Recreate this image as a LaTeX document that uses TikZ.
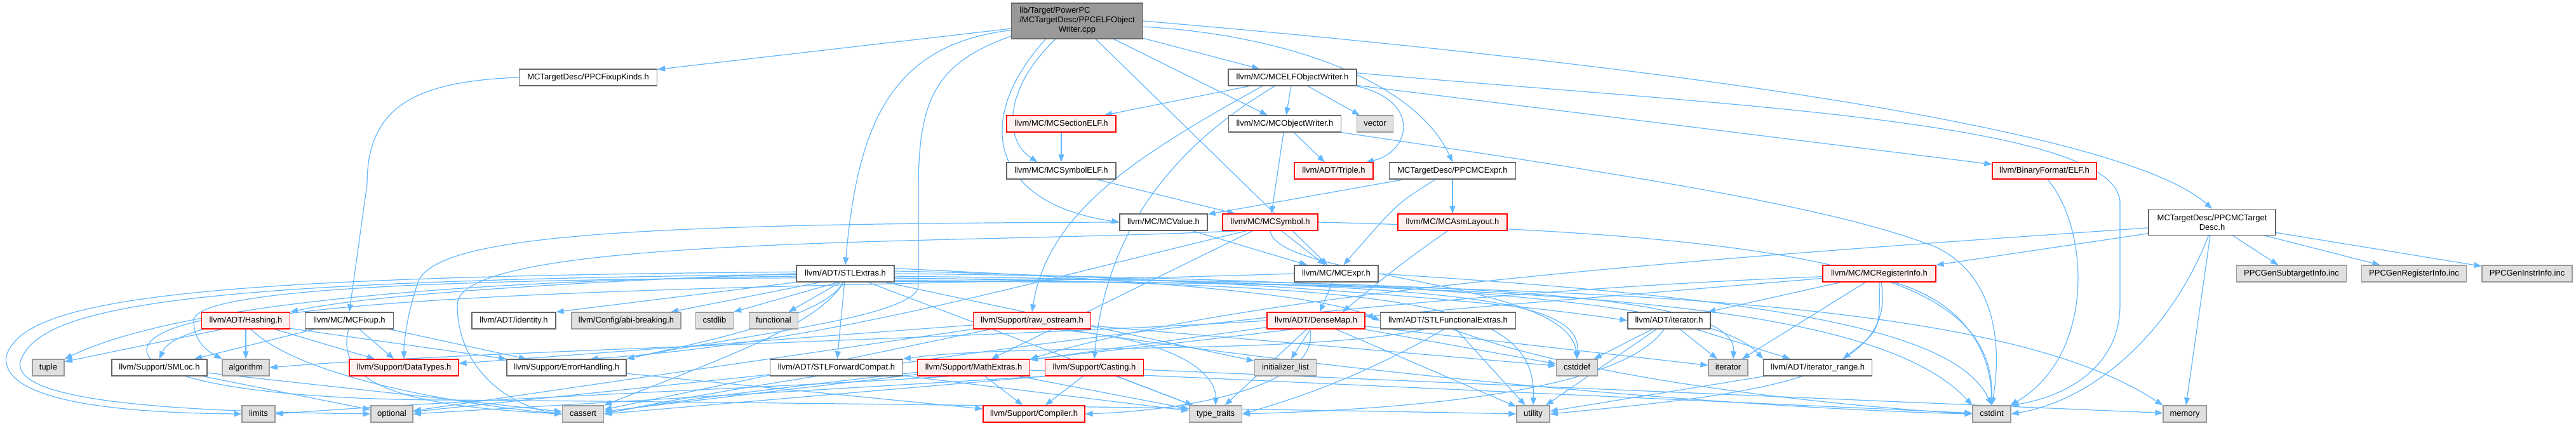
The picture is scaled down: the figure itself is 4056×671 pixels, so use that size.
\documentclass[tikz,border=0pt]{standalone}
\usepackage{fontspec}
\setmainfont{Liberation Sans}
\usetikzlibrary{arrows.meta}
\definecolor{edgeblue}{HTML}{63B8FF}
\definecolor{grayfill}{HTML}{E0E0E0}
\definecolor{graydraw}{HTML}{999999}
\definecolor{darkdraw}{HTML}{666666}
\definecolor{redfill}{HTML}{FFF0F0}
\definecolor{redline}{HTML}{FF0000}
\pgfdeclarelayer{bg}
\pgfsetlayers{bg,main}
\begin{document}
\begin{tikzpicture}[x=1pt,y=-1pt,
  bx/.style={draw=darkdraw, fill=white, line width=1.3pt, inner xsep=3pt, inner ysep=0pt,
    font=\fontsize{13}{15}\selectfont, text=black},
  nbox/.style={bx, minimum height=26pt, text height=9.5pt, text depth=2.8pt},
  sbox/.style={nbox, draw=graydraw, fill=grayfill},
  tbox/.style={nbox, draw=redline, fill=redfill},
  e/.style={draw=edgeblue, line width=1.2pt, -{Triangle[length=12pt,width=9pt]}}
]
\useasboundingbox (0,0) rectangle (4056,671);

% ---- nodes ----
\node[bx, fill=black!40, draw=darkdraw, minimum width=207pt, minimum height=56pt] (root) at (1696,33)
  {\begin{tabular}{@{}l@{}}lib/Target/PowerPC\\/MCTargetDesc/PPCELFObject\\\multicolumn{1}{@{}c@{}}{Writer.cpp}\end{tabular}};
\node[nbox, minimum width=217pt] (fixk) at (926,122) {MCTargetDesc/PPCFixupKinds.h};
\node[nbox, minimum width=202pt] (elfw) at (2035,122) {llvm/MC/MCELFObjectWriter.h};
\node[tbox, minimum width=172pt] (secelf) at (1671,195) {llvm/MC/MCSectionELF.h};
\node[nbox, minimum width=177pt] (objw) at (2023,195) {llvm/MC/MCObjectWriter.h};
\node[sbox, minimum width=57pt] (vector) at (2165,195) {vector};
\node[nbox, minimum width=172pt] (symelf) at (1671,269) {llvm/MC/MCSymbolELF.h};
\node[tbox, minimum width=124pt] (triple) at (2100,269) {llvm/ADT/Triple.h};
\node[nbox, minimum width=199pt] (pmcexpr) at (2287,269) {MCTargetDesc/PPCMCExpr.h};
\node[tbox, minimum width=164pt] (elf) at (3219,269) {llvm/BinaryFormat/ELF.h};
\node[nbox, minimum width=138pt] (value) at (1832,350) {llvm/MC/MCValue.h};
\node[tbox, minimum width=150pt] (symbol) at (2000,350) {llvm/MC/MCSymbol.h};
\node[tbox, minimum width=172pt] (asml) at (2287,350) {llvm/MC/MCAsmLayout.h};
\node[bx, align=center, minimum width=200pt, minimum height=41pt] (ptd) at (3483,350) {MCTargetDesc/PPCMCTarget\\Desc.h};
\node[nbox, minimum width=154pt] (stlx) at (1331,431) {llvm/ADT/STLExtras.h};
\node[nbox, minimum width=132pt] (expr) at (2104,431) {llvm/MC/MCExpr.h};
\node[tbox, minimum width=178pt] (regi) at (2959,431) {llvm/MC/MCRegisterInfo.h};
\node[sbox, minimum width=173pt] (gsub) at (3608,431) {PPCGenSubtargetInfo.inc};
\node[sbox, minimum width=165pt] (greg) at (3801,431) {PPCGenRegisterInfo.inc};
\node[sbox, minimum width=142pt] (ginst) at (3979,431) {PPCGenInstrInfo.inc};
\node[tbox, minimum width=139pt] (hashing) at (387,505) {llvm/ADT/Hashing.h};
\node[nbox, minimum width=139pt] (fixup) at (550,505) {llvm/MC/MCFixup.h};
\node[nbox, minimum width=132pt] (identity) at (809,505) {llvm/ADT/identity.h};
\node[sbox, minimum width=172pt] (abi) at (986,505) {llvm/Config/abi-breaking.h};
\node[sbox, minimum width=59pt] (cstdlib) at (1125,505) {cstdlib};
\node[sbox, minimum width=77pt] (functional) at (1218,505) {functional};
\node[tbox, minimum width=185pt] (rawos) at (1625,505) {llvm/Support/raw\_ostream.h};
\node[tbox, minimum width=154pt] (densemap) at (2072,505) {llvm/ADT/DenseMap.h};
\node[nbox, minimum width=213pt] (stlfe) at (2280,505) {llvm/ADT/STLFunctionalExtras.h};
\node[nbox, minimum width=130pt] (iter) at (2628,505) {llvm/ADT/iterator.h};
\node[sbox, minimum width=50pt] (tuple) at (76,579) {tuple};
\node[nbox, minimum width=150pt] (smloc) at (251,579) {llvm/Support/SMLoc.h};
\node[sbox, minimum width=74pt] (algorithm) at (387,579) {algorithm};
\node[tbox, minimum width=172pt] (datat) at (636,579) {llvm/Support/DataTypes.h};
\node[nbox, minimum width=188pt] (err) at (892,579) {llvm/Support/ErrorHandling.h};
\node[nbox, minimum width=209pt] (stlfc) at (1317,579) {llvm/ADT/STLForwardCompat.h};
\node[tbox, minimum width=177pt] (math) at (1533,579) {llvm/Support/MathExtras.h};
\node[tbox, minimum width=155pt] (casting) at (1723,579) {llvm/Support/Casting.h};
\node[sbox, minimum width=97pt] (initl) at (2024,579) {initializer\_list};
\node[sbox, minimum width=65pt] (cstddef) at (2483,579) {cstddef};
\node[sbox, minimum width=62pt] (iterstd) at (2721,579) {iterator};
\node[nbox, minimum width=171pt] (iterr) at (2862,579) {llvm/ADT/iterator\_range.h};
\node[sbox, minimum width=52pt] (limits) at (407,652) {limits};
\node[sbox, minimum width=66pt] (optional) at (617,652) {optional};
\node[sbox, minimum width=65pt] (cassert) at (918,652) {cassert};
\node[tbox, minimum width=160pt] (compiler) at (1628,652) {llvm/Support/Compiler.h};
\node[sbox, minimum width=83pt] (typet) at (1914,652) {type\_traits};
\node[sbox, minimum width=52pt] (utility) at (2414,652) {utility};
\node[sbox, minimum width=60pt] (cstdint) at (3136,652) {cstdint};
\node[sbox, minimum width=68pt] (memory) at (3440,652) {memory};

% ---- edges ----
\begin{pgfonlayer}{bg}
\fill[white] (0,0) rectangle (4056,671);
% root
\draw[e] (root) -- (fixk);
\draw[e] (root.188) .. controls (1400,70) and (1350,200) .. (stlx.north);
\draw[e] (root.193) .. controls (1470,100) and (1446,160) .. (1446,300) -- (1446,450) .. controls (1446,500) and (1150,530) .. (err.north east);
\draw[e] (root.210) .. controls (1530,190) and (1560,320) .. (value.west);
\draw[e] (root.220) .. controls (1580,140) and (1580,220) .. (symelf.160);
\draw[e] (root) -- (expr);
\draw[e] (root) -- (objw);
\draw[e] (root) -- (elfw);
\draw[e] (root.355) .. controls (2030,55) and (2230,130) .. (pmcexpr.north);
\draw[e] (root.east) .. controls (2700,110) and (3350,210) .. (ptd.north);
% fixk
\draw[e] (fixk.west) .. controls (650,128) and (578,170) .. (578,290) -- (fixup.north);
% elfw
\draw[e] (elfw) -- (secelf);
\draw[e] (elfw.196) .. controls (1800,240) and (1650,330) .. (rawos.north);
\draw[e] (elfw.206) .. controls (1900,200) and (1745,320) .. (casting.north);
\draw[e] (elfw) -- (objw);
\draw[e] (elfw) -- (vector);
\draw[e] (elfw.south east) .. controls (2240,160) and (2220,240) .. (triple.15);
\draw[e] (elfw.4) .. controls (2700,165) and (3338,190) .. (3338,320) -- (3338,480) .. controls (3338,580) and (3250,625) .. (cstdint.north east);
\draw[e] (elfw) -- (elf);
% objw
\draw[e] (objw) -- (triple);
\draw[e] (objw) -- (symbol);
\draw[e] (objw.south east) .. controls (2600,280) and (2900,330) .. (3050,390) .. controls (3150,440) and (3150,560) .. (cstdint.north);
% secelf, symelf
\draw[e] (secelf) -- (symelf);
\draw[e] (symelf) -- (symbol);
% pmcexpr
\draw[e] (pmcexpr) -- (value);
\draw[e] (pmcexpr.207) .. controls (2200,320) .. (expr.50);
\draw[e] (pmcexpr) -- (asml);
% elf
\draw[e] (elf.290) .. controls (3290,360) and (3300,560) .. (cstdint.25);
% ptd
\draw[e] (ptd.185) .. controls (2800,400) and (2000,450) .. (math.north east);
\draw[e] (ptd.190) -- (regi.north east);
\draw[e] (ptd.255) .. controls (3420,520) and (3300,630) .. (cstdint.east);
\draw[e] (ptd) -- (memory);
\draw[e] (ptd) -- (gsub);
\draw[e] (ptd) -- (greg);
\draw[e] (ptd) -- (ginst);
% value
\draw[e] (value) -- (expr);
\draw[e] (value.west) .. controls (1000,352) and (700,370) .. (660,440) .. controls (645,480) and (636,530) .. (datat.north);
% symbol
\draw[e] (symbol.200) .. controls (1600,450) and (1300,540) .. (err.20);
\draw[e] (symbol.195) .. controls (1500,385) and (720,370) .. (720,480) .. controls (720,580) and (800,640) .. (cassert.west);
\draw[e] (symbol) -- (math);
\draw[e] (symbol) -- (expr);
\draw[e] (symbol.south) .. controls (2010,440) and (2470,440) .. (cstddef.north);
\draw[e] (symbol.east) .. controls (2900,370) and (3140,440) .. (cstdint.north);
% expr
\draw[e] (expr) -- (densemap);
\draw[e] (expr.west) .. controls (1300,455) and (300,450) .. (smloc.north);
\draw[e] (expr.east) .. controls (2800,470) and (3080,520) .. (cstdint.north);
% asml
\draw[e] (asml.240) .. controls (2200,420) .. (densemap.18);
% stlx
\draw[e] (stlx.west) .. controls (1000,440) and (600,460) .. (hashing.north east);
\draw[e] (stlx.south west) -- (identity.north east);
\draw[e] (stlx.199) -- (abi.11);
\draw[e] (stlx.230) -- (cstdlib.north east);
\draw[e] (stlx.240) -- (functional.30);
\draw[e] (stlx) -- (stlfc);
\draw[e] (stlx.255) .. controls (1300,500) and (1100,540) .. (err.north east);
\draw[e] (stlx.258) .. controls (1290,510) and (1150,560) .. (cassert.north east);
\draw[e] (stlx.185) .. controls (700,440) and (305,455) .. (305,505) .. controls (305,540) and (330,555) .. (algorithm.north west);
\draw[e] (stlx.183) .. controls (800,440) and (300,470) .. (tuple.north east);
\draw[e] (stlx.178) .. controls (300,436) and (40,470) .. (10,560) .. controls (0,625) and (150,650) .. (limits.west);
\draw[e] (stlx.181) .. controls (300,442) and (60,480) .. (32,570) .. controls (20,630) and (250,648) .. (optional.west);
\draw[e] (stlx.6) .. controls (1900,445) and (2100,470) .. (stlfe.west);
\draw[e] (stlx.3) .. controls (2000,440) and (2400,480) .. (iter.west);
\draw[e] (stlx.0) .. controls (2300,440) and (2700,480) .. (iterr.north west);
\draw[e] (stlx.357) .. controls (2300,445) and (2490,470) .. (cstddef.north);
\draw[e] (stlx.354) .. controls (2400,440) and (2735,470) .. (iterstd.60);
\draw[e] (stlx.352) .. controls (2400,445) and (2950,470) .. (cstdint.north west);
\draw[e] (stlx.351) .. controls (2500,445) and (3150,470) .. (memory.north west);
\draw[e] (stlx.355) .. controls (2200,450) and (2420,470) .. (utility.north);
\draw[e] (stlx) -- (initl);
\draw[e] (stlx) -- (typet);
% hashing
\draw[e] (hashing.200) -- (tuple.20);
\draw[e] (hashing) -- (algorithm);
\draw[e] (hashing) -- (datat);
\draw[e] (hashing.350) -- (err.north west);
\draw[e] (hashing.300) .. controls (480,600) and (750,640) .. (cassert.west);
\draw[e] (hashing.west) .. controls (150,540) and (200,628) .. (700,630) .. controls (1500,636) and (2200,648) .. (utility.west);
% fixup
\draw[e] (fixup) -- (smloc);
\draw[e] (fixup) -- (datat);
\draw[e] (fixup) -- (err);
\draw[e] (fixup.265) .. controls (525,610) and (650,640) .. (cassert.west);
% smloc
\draw[e] (smloc) -- (optional);
\draw[e] (smloc) -- (cassert);
% err
\draw[e] (err) -- (compiler);
% stlfc
\draw[e] (stlfc) -- (optional);
\draw[e] (stlfc) -- (typet);
% stlfe
\draw[e] (stlfe.200) .. controls (2050,560) and (1600,540) .. (stlfc.north east);
\draw[e] (stlfe.245) .. controls (2150,590) and (2050,625) .. (typet.east);
\draw[e] (stlfe) -- (utility);
\draw[e] (stlfe.300) .. controls (2500,600) and (2900,640) .. (cstdint.west);
% iter
\draw[e] (iter) -- (cstddef);
\draw[e] (iter) -- (iterstd);
\draw[e] (iter) -- (utility);
\draw[e] (iter.240) .. controls (2550,620) and (2200,645) .. (typet.east);
\draw[e] (iter) -- (iterr);
% iterr
\draw[e] (iterr) -- (utility);
% regi
\draw[e] (regi) -- (densemap);
\draw[e] (regi) -- (iter);
\draw[e] (regi) -- (iterstd);
\draw[e] (regi.south) .. controls (2960,520) .. (iterr.19);
\draw[e] (regi.282) .. controls (2990,600) and (2750,622) .. (utility.east);
\draw[e] (regi.183) .. controls (2000,470) and (1200,600) .. (cassert.east);
\draw[e] (regi.330) .. controls (3100,480) and (3135,560) .. (cstdint.north);
% densemap
\draw[e] (densemap) -- (initl);
\draw[e] (densemap.235) .. controls (2080,600) and (1900,645) .. (compiler.east);
\draw[e] (densemap) -- (math);
\draw[e] (densemap) -- (utility);
\draw[e] (densemap) -- (cstddef);
\draw[e] (densemap) -- (iterstd);
\draw[e] (densemap) -- (typet);
\draw[e] (densemap.west) .. controls (1600,530) and (700,555) .. (algorithm.east);
\draw[e] (densemap.200) .. controls (1700,560) and (1100,620) .. (cassert.east);
% rawos
\draw[e] (rawos) -- (datat);
\draw[e] (rawos) -- (cassert);
\draw[e] (rawos) -- (optional);
\draw[e] (rawos) -- (cstddef);
\draw[e] (rawos.345) .. controls (2200,600) and (2800,645) .. (cstdint.west);
\draw[e] (rawos.335) .. controls (1880,535) and (1915,600) .. (typet.north);
% math
\draw[e] (math) -- (compiler);
\draw[e] (math) -- (cassert);
\draw[e] (math) -- (cstdint);
\draw[e] (math.200) .. controls (1200,612) and (800,625) .. (limits.east);
\draw[e] (math) -- (typet);
% casting
\draw[e] (casting) -- (compiler);
\draw[e] (casting) -- (typet);
\draw[e] (casting.south west) -- (cassert.east);
\draw[e] (casting.south west) -- (optional.east);
\draw[e] (casting) -- (memory);
\end{pgfonlayer}
\end{tikzpicture}
\end{document}
